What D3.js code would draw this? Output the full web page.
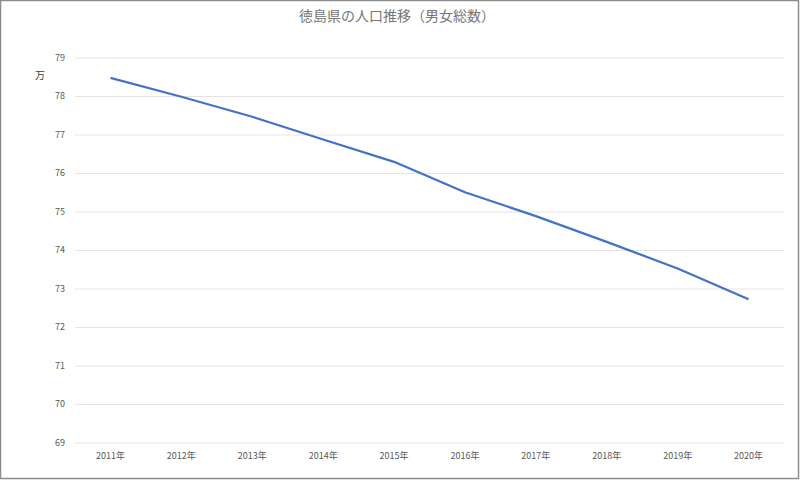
<!DOCTYPE html>
<html>
<head>
<meta charset="utf-8">
<script src="https://cdn.jsdelivr.net/npm/d3@7"></script>
<style>
  body { margin: 0; background: #fff; }
  #chart { width: 800px; height: 480px; }
  text { font-family: "Noto Sans CJK JP", "Noto Sans", sans-serif; }
</style>
</head>
<body>
<div id="chart"></div>
<script>
// data
const years = ['2011年', '2012年', '2013年', '2014年', '2015年', '2016年', '2017年', '2018年', '2019年', '2020年'];
const population = [78.47, 77.98, 77.46, 76.87, 76.29, 75.50, 74.88, 74.21, 73.52, 72.72];
const yTicks = [69, 70, 71, 72, 73, 74, 75, 76, 77, 78, 79];

const totalW = 800, totalH = 480;
let margin = { top: 57.5, right: 16, bottom: 37.5, left: 75 };
let width = totalW - margin.left - margin.right;
let height = totalH - margin.top - margin.bottom;

const svg = d3.select('#chart').append('svg')
  .attr('width', totalW)
  .attr('height', totalH);

// outer frame
svg.append('rect')
  .attr('x', 0.5).attr('y', 0.5)
  .attr('width', totalW - 2).attr('height', totalH - 2)
  .attr('fill', '#fff')
  .attr('stroke', '#8c8c8c')
  .attr('stroke-width', 1.5);

const group = svg.append('g').attr('transform', `translate(${margin.left}, ${margin.top})`);

let x = d3.scaleBand().domain(years).range([0, width]);
let y = d3.scaleLinear().domain([69, 79]).range([height, 0]);

// gridlines
group.append('g')
  .attr('class', 'grid')
  .call(d3.axisLeft(y).tickValues(yTicks).tickSize(-width).tickFormat(''))
  .call(g => g.select('.domain').remove())
  .selectAll('line')
  .attr('stroke', '#e4e4e4')
  .attr('stroke-width', 1);

// y axis labels
group.append('g')
  .call(d3.axisLeft(y).tickValues(yTicks).tickSize(0).tickPadding(10).tickFormat(d3.format('d')))
  .call(g => g.select('.domain').remove())
  .selectAll('text')
  .style('font-size', '9px')
  .style('fill', '#595959');

// x axis labels
group.append('g')
  .attr('transform', `translate(0, ${height})`)
  .call(d3.axisBottom(x).tickSize(0).tickPadding(10))
  .call(g => g.select('.domain').remove())
  .selectAll('text')
  .style('font-size', '9px')
  .style('fill', '#595959');

// line
const line = d3.line()
  .x((d, i) => x(years[i]) + x.bandwidth() / 2)
  .y(d => y(d));

group.append('path')
  .datum(population)
  .attr('fill', 'none')
  .attr('stroke', '#4472c4')
  .attr('stroke-width', 2.25)
  .attr('stroke-linejoin', 'round')
  .attr('d', line);

// title
svg.append('text')
  .attr('x', 397)
  .attr('y', 21)
  .attr('text-anchor', 'middle')
  .style('font-size', '14px')
  .style('fill', '#757575')
  .text('徳島県の人口推移（男女総数）');

// unit label
svg.append('text')
  .attr('x', 40)
  .attr('y', 79)
  .attr('text-anchor', 'middle')
  .style('font-size', '10px')
  .style('fill', '#404040')
  .text('万');
</script>
</body>
</html>
